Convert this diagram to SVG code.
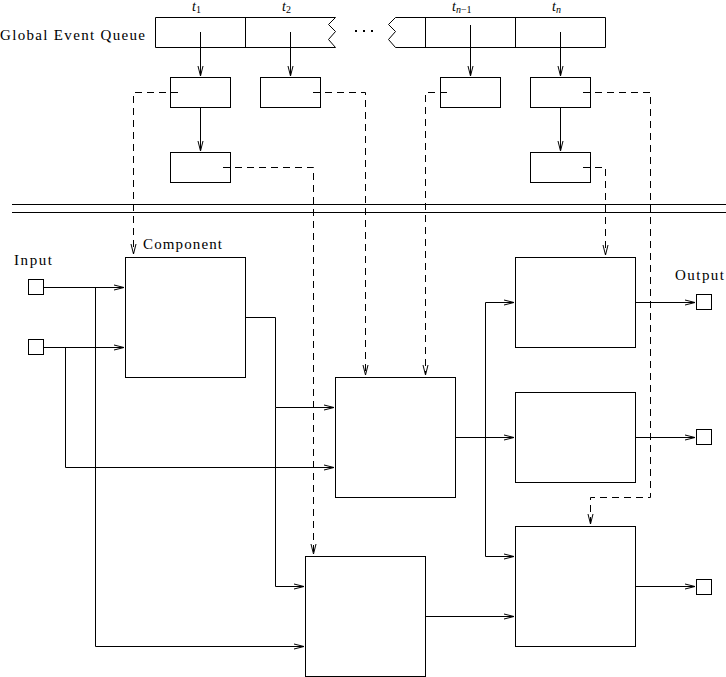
<svg xmlns="http://www.w3.org/2000/svg" width="726" height="677" viewBox="0 0 726 677">
<style>
.b{fill:none;stroke:#000;stroke-width:1}
.c{fill:none;stroke:#000;stroke-width:1}
.d{fill:none;stroke:#000;stroke-width:1;stroke-dasharray:7,5}
.t{font-family:"Liberation Serif",serif;font-size:15px;fill:#000}
.ti{font-family:"Liberation Serif",serif;font-size:14px;font-style:italic;fill:#000}
.s{font-size:10px}
</style>
<defs>
<marker id="ah" markerWidth="12" markerHeight="8" refX="10" refY="4" orient="auto" markerUnits="userSpaceOnUse"><path d="M0,1.5 L10,4 L0,6.5" fill="none" stroke="#000" stroke-width="1"/></marker>
</defs>
<rect width="726" height="677" fill="#fff"/>

<g id="queue">
<text class="t" x="0" y="40" textLength="145" lengthAdjust="spacing">Global Event Queue</text>
<path class="b" d="M335.5,17.5 H155.5 V47.5 H335.5 L328.5,39.5 L335.5,31.5 L328.5,24.5 Z"/>
<line class="b" x1="245.5" y1="17.5" x2="245.5" y2="47.5"/>
<path class="b" d="M395.5,17.5 H605.5 V47.5 H395.5 L388.5,39.5 L395.5,31.5 L388.5,24.5 Z"/>
<line class="b" x1="425.5" y1="17.5" x2="425.5" y2="47.5"/>
<line class="b" x1="515.5" y1="17.5" x2="515.5" y2="47.5"/>
<g id="dots"><rect x="355" y="30" width="2" height="2"/><rect x="363" y="30" width="2" height="2"/><rect x="371" y="30" width="2" height="2"/></g>
<text class="ti" x="192" y="11">t<tspan class="s" dy="2" font-style="normal">1</tspan></text>
<text class="ti" x="282" y="11">t<tspan class="s" dy="2" font-style="normal">2</tspan></text>
<text class="ti" x="452" y="11">t<tspan class="s" dy="2">n</tspan><tspan class="s" font-style="normal">−1</tspan></text>
<text class="ti" x="552" y="11">t<tspan class="s" dy="2">n</tspan></text>
</g>

<g id="ev1"><rect class="b" x="170.5" y="77.5" width="60" height="30"/></g>
<g id="ev2"><rect class="b" x="260.5" y="77.5" width="60" height="30"/></g>
<g id="ev3"><rect class="b" x="440.5" y="77.5" width="60" height="30"/></g>
<g id="ev4"><rect class="b" x="530.5" y="77.5" width="60" height="30"/></g>
<g id="ev5"><rect class="b" x="170.5" y="152.5" width="60" height="30"/></g>
<g id="ev6"><rect class="b" x="530.5" y="152.5" width="60" height="30"/></g>

<g id="separator">
<line class="b" x1="12" y1="204.5" x2="726" y2="204.5"/>
<line class="b" x1="12" y1="212.5" x2="726" y2="212.5"/>
</g>

<g id="compA"><rect class="b" x="125.5" y="257.5" width="120" height="120"/><text class="t" x="143" y="249" textLength="79" lengthAdjust="spacing">Component</text></g>
<g id="compB"><rect class="b" x="335.5" y="377.5" width="120" height="120"/></g>
<g id="compC"><rect class="b" x="305.5" y="556.5" width="120" height="120"/></g>
<g id="compD"><rect class="b" x="515.5" y="257.5" width="120" height="90"/></g>
<g id="compE"><rect class="b" x="515.5" y="392.5" width="120" height="90"/></g>
<g id="compF"><rect class="b" x="515.5" y="526.5" width="120" height="120"/></g>

<g id="inputs">
<text class="t" x="14" y="265" textLength="38" lengthAdjust="spacing">Input</text>
<rect class="b" x="28.5" y="279.5" width="15" height="15"/>
<rect class="b" x="28.5" y="339.5" width="15" height="15"/>
</g>
<g id="outputs">
<text class="t" x="675" y="280" textLength="49" lengthAdjust="spacing">Output</text>
<rect class="b" x="696.5" y="294.5" width="15" height="15"/>
<rect class="b" x="696.5" y="429.5" width="15" height="15"/>
<rect class="b" x="696.5" y="579.5" width="15" height="15"/>
</g>

<g id="connectors">
<line class="c" x1="200.5" y1="32" x2="200.5" y2="76" marker-end="url(#ah)"/>
<line class="c" x1="290.5" y1="32" x2="290.5" y2="76" marker-end="url(#ah)"/>
<line class="c" x1="470.5" y1="25" x2="470.5" y2="76" marker-end="url(#ah)"/>
<line class="c" x1="560.5" y1="32" x2="560.5" y2="76" marker-end="url(#ah)"/>
<line class="c" x1="200.5" y1="107.5" x2="200.5" y2="151" marker-end="url(#ah)"/>
<line class="c" x1="560.5" y1="107.5" x2="560.5" y2="151" marker-end="url(#ah)"/>

<path class="d" d="M178,92.5 H133.5 V254" marker-end="url(#ah)"/>
<path class="d" d="M313,92.5 H365.5 V375" marker-end="url(#ah)"/>
<path class="d" d="M447,92.5 H425.5 V375" marker-end="url(#ah)"/>
<path class="d" d="M583,92.5 H650.5 V497.5 H590.5 V524" marker-end="url(#ah)"/>
<path class="d" d="M223,167.5 H313.5 V554" marker-end="url(#ah)"/>
<path class="d" d="M583,167.5 H605.5 V255" marker-end="url(#ah)"/>

<path class="c" d="M43.5,287.5 H124" marker-end="url(#ah)"/>
<path class="c" d="M43.5,347.5 H124" marker-end="url(#ah)"/>
<path class="c" d="M95.5,287.5 V646.5 H304" marker-end="url(#ah)"/>
<path class="c" d="M65.5,347.5 V467.5 H334" marker-end="url(#ah)"/>
<path class="c" d="M245.5,317.5 H275.5 V407.5 H334" marker-end="url(#ah)"/>
<path class="c" d="M275.5,407.5 V586.5 H304" marker-end="url(#ah)"/>
<path class="c" d="M455.5,437.5 H514" marker-end="url(#ah)"/>
<path class="c" d="M485.5,437.5 V302.5 H514" marker-end="url(#ah)"/>
<path class="c" d="M485.5,437.5 V556.5 H514" marker-end="url(#ah)"/>
<path class="c" d="M425.5,616.5 H514" marker-end="url(#ah)"/>
<path class="c" d="M635.5,302.5 H695" marker-end="url(#ah)"/>
<path class="c" d="M635.5,437.5 H695" marker-end="url(#ah)"/>
<path class="c" d="M635.5,586.5 H695" marker-end="url(#ah)"/>
</g>
</svg>
